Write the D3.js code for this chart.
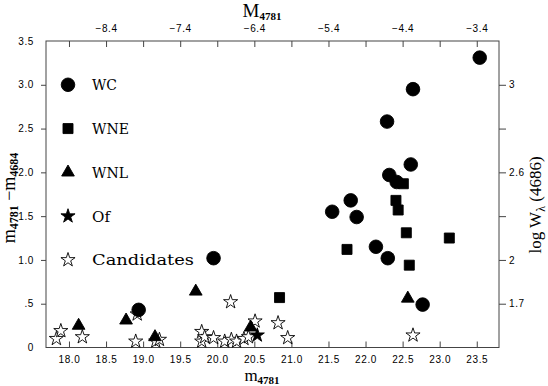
<!DOCTYPE html>
<html><head><meta charset="utf-8">
<script src="https://cdn.jsdelivr.net/npm/d3@7"></script>
<style>
html,body{margin:0;padding:0;background:#fff;}
svg{display:block;}
</style></head>
<body>
<svg id="chart" width="548" height="386"></svg>
<script>
// ---- data (m4781, m4781 - m4684) ----
const wcX  = [23.54, 22.64, 22.29, 22.61, 22.32, 22.42, 21.80, 21.55, 21.88, 22.14, 22.30, 22.77, 19.95, 18.94];
const wcY  = [3.31, 2.95, 2.58, 2.09, 1.97, 1.89, 1.68, 1.55, 1.49, 1.15, 1.02, 0.49, 1.02, 0.43];
const wneX = [22.51, 22.41, 22.44, 22.55, 23.13, 21.75, 22.59, 20.84];
const wneY = [1.87, 1.68, 1.57, 1.31, 1.25, 1.12, 0.94, 0.57];
const wnlX = [22.57, 18.13, 18.77, 19.71, 19.16, 20.45];
const wnlY = [0.56, 0.25, 0.31, 0.64, 0.12, 0.23];
const ofX  = [20.54];
const ofY  = [0.14];
const candX = [17.83, 17.89, 18.18, 18.90, 18.92, 19.17, 19.22, 19.79, 19.79, 19.83, 19.95, 20.10, 20.18, 20.19, 20.26, 20.36, 20.42, 20.51, 20.82, 20.95, 22.64];
const candY = [0.10, 0.19, 0.12, 0.07, 0.38, 0.07, 0.09, 0.18, 0.07, 0.12, 0.11, 0.07, 0.52, 0.09, 0.07, 0.10, 0.12, 0.30, 0.28, 0.11, 0.14];

const bottomTicks = [18.0, 18.5, 19.0, 19.5, 20.0, 20.5, 21.0, 21.5, 22.0, 22.5, 23.0, 23.5];
const topLabelTicks = [18.5, 19.5, 20.5, 21.5, 22.5, 23.5];   // positions in m4781
const topOffset = 26.9;                                     // M = m - 26.9
const leftTicks = [0, 0.5, 1.0, 1.5, 2.0, 2.5, 3.0, 3.5];
const leftLabels = ["0", ".5", "1.0", "1.5", "2.0", "2.5", "3.0", "3.5"];
const rightTicks = [0.5, 1.0, 1.5, 2.0, 2.5, 3.0];
const rightLabels = ["1.7", "2", "", "2.6", "", "3"];
const legendNames = ["WC", "WNE", "WNL", "Of", "Candidates"];
const legendY = [3.0, 2.5, 2.0, 1.5, 1.0];

// ---- layout ----
const L = 46, R = 499, T = 41, B = 347.5;
const svg = d3.select("#chart");
const x = d3.scaleLinear().domain([17.69, 23.8]).range([L, R]);
const y = d3.scaleLinear().domain([0, 3.5]).range([B, T]);
const tickFont = '"Liberation Sans", Arial, sans-serif';
const serif = '"DejaVu Serif", serif';
const subFont = '"Liberation Serif", "Times New Roman", serif';
const frameCol = "#444";

// axes
const gB = svg.append("g").attr("transform", `translate(0,${B})`)
  .call(d3.axisBottom(x).tickValues(bottomTicks).tickSizeInner(-6).tickSizeOuter(0).tickPadding(8).tickFormat(d3.format(".1f")));
const gT = svg.append("g").attr("transform", `translate(0,${T})`)
  .call(d3.axisTop(x).tickValues(bottomTicks).tickSizeInner(-6).tickSizeOuter(0).tickPadding(9)
    .tickFormat(d => topLabelTicks.includes(d) ? d3.format(".1f")(d - topOffset).replace("-", "\u2212") : ""));
const gL = svg.append("g").attr("transform", `translate(${L},0)`)
  .call(d3.axisLeft(y).tickValues(leftTicks).tickSizeInner(5).tickSizeOuter(0).tickPadding(7)
    .tickFormat((d, i) => leftLabels[i]));
const gR = svg.append("g").attr("transform", `translate(${R},0)`)
  .call(d3.axisRight(y).tickValues(rightTicks).tickSizeInner(7).tickSizeOuter(0).tickPadding(3)
    .tickFormat((d, i) => rightLabels[i]));
[gB, gT, gL, gR].forEach(g => {
  g.select(".domain").remove();
  g.selectAll(".tick line").attr("stroke", frameCol);
  g.selectAll(".tick text").attr("font-family", tickFont).attr("font-size", 10).attr("fill", "#000").attr("letter-spacing", 0.6);
});
gL.selectAll(".tick").filter(d => d === 0 || d === 3.5).select("line").remove();

// frame
svg.append("rect").attr("x", L).attr("y", T).attr("width", R - L).attr("height", B - T)
  .attr("fill", "none").attr("stroke", frameCol).attr("stroke-width", 1);

// symbols
const sym = {
  circle: d3.symbol().type(d3.symbolCircle).size(145),
  square: d3.symbol().type(d3.symbolSquare).size(100),
  triangle: d3.symbol().type(d3.symbolTriangle).size(70),
  star: d3.symbol().type(d3.symbolStar).size(62)
};
function plot(xs, ys, path, fill) {
  svg.append("g").selectAll("path").data(xs.map((v, i) => [v, ys[i]])).join("path")
    .attr("d", path)
    .attr("transform", d => `translate(${x(d[0])},${y(d[1])})`)
    .attr("fill", fill).attr("stroke", "#000").attr("stroke-width", 0.9);
}
plot(candX, candY, sym.star, "#fff");
plot(wcX, wcY, sym.circle, "#000");
plot(wneX, wneY, sym.square, "#000");
plot(wnlX, wnlY, sym.triangle, "#000");
plot(ofX, ofY, sym.star, "#000");

// legend
const legSyms = [sym.circle, sym.square, sym.triangle, sym.star, sym.star];
const legFill = ["#000", "#000", "#000", "#000", "#fff"];
const legLen = [25, 37, 36, 18, 102];
legendNames.forEach((n, i) => {
  svg.append("text").attr("x", 92).attr("y", y(legendY[i]) + 5.5)
    .attr("font-family", serif).attr("font-size", 15.5)
    .attr("textLength", legLen[i]).attr("lengthAdjust", "spacingAndGlyphs").text(n);
  svg.append("path").attr("d", legSyms[i]).attr("transform", `translate(68,${y(legendY[i])})`)
    .attr("fill", legFill[i]).attr("stroke", "#000").attr("stroke-width", 0.9);
});

// titles
const tTop = svg.append("text").attr("x", 262).attr("y", 17).attr("text-anchor", "middle")
  .attr("font-family", subFont).attr("font-size", 19);
tTop.append("tspan").text("M");
tTop.append("tspan").attr("font-size", 11).attr("font-weight", "bold").attr("dy", 3).text("4781");

const tBot = svg.append("text").attr("x", 262).attr("y", 381).attr("text-anchor", "middle")
  .attr("font-family", subFont).attr("font-size", 17);
tBot.append("tspan").text("m");
tBot.append("tspan").attr("font-size", 11).attr("font-weight", "bold").attr("dy", 3).text("4781");

const tLeft = svg.append("text").attr("transform", "translate(15,198) rotate(-90)").attr("text-anchor", "middle")
  .attr("font-family", subFont).attr("font-size", 18);
tLeft.append("tspan").text("m");
tLeft.append("tspan").attr("font-size", 12).attr("font-weight", "bold").attr("dy", 2.5).text("4781");
tLeft.append("tspan").attr("dy", -2.5).text(" \u2212m");
tLeft.append("tspan").attr("font-size", 12).attr("font-weight", "bold").attr("dy", 2.5).text("4684");

const tRight = svg.append("text").attr("transform", "translate(541,205) rotate(-90)").attr("text-anchor", "middle")
  .attr("font-family", subFont).attr("font-size", 17);
tRight.append("tspan").text("log W");
tRight.append("tspan").attr("font-size", 12).attr("dy", 4).text("\u03bb");
tRight.append("tspan").attr("dy", -4).text(" (4686)");
</script>
</body></html>
